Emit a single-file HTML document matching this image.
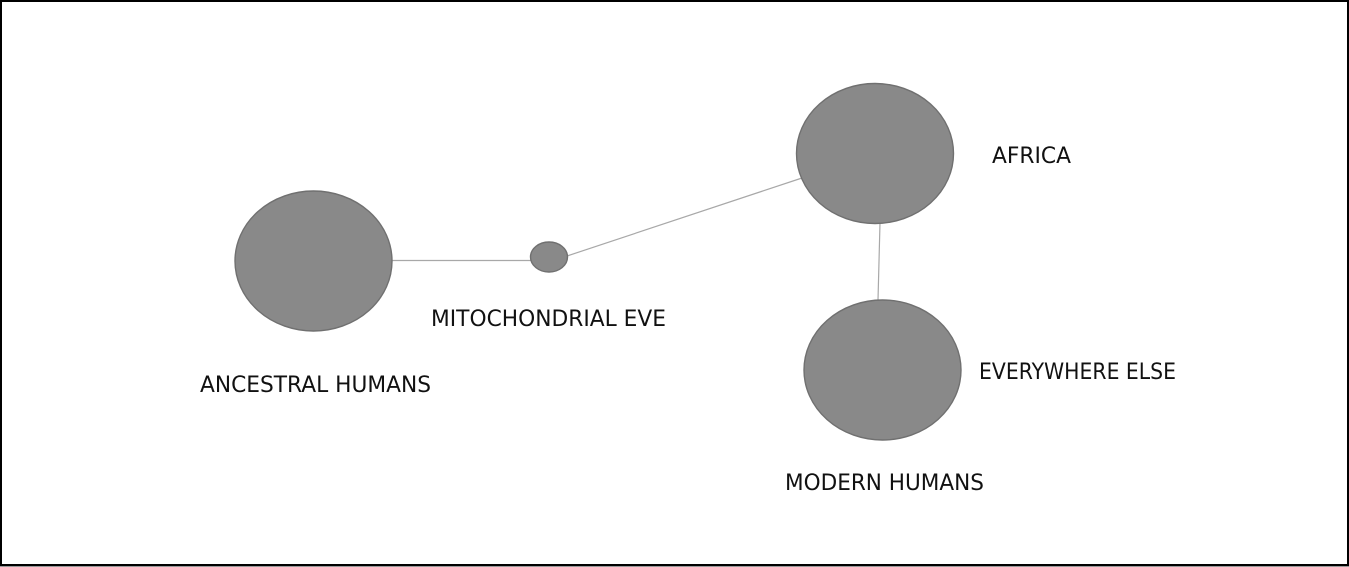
<!DOCTYPE html>
<html>
<head>
<meta charset="utf-8">
<style>
html,body{margin:0;padding:0;background:#fff;width:1349px;height:567px;overflow:hidden}
svg{display:block}
text{font-family:"DejaVu Sans","Liberation Sans",sans-serif;font-size:22px;fill:#111;filter:blur(0.3px)}
</style>
</head>
<body>
<svg width="1349" height="567" viewBox="0 0 1349 567" xmlns="http://www.w3.org/2000/svg">
<rect width="1349" height="567" fill="#fff"/>
<rect x="1" y="1" width="1347" height="564" fill="#fff" stroke="#000" stroke-width="2"/>
<rect x="0" y="566" width="1349" height="1" fill="#999"/>
<g stroke="#a8a8a8" stroke-width="1.2" fill="none">
<line x1="392" y1="260.5" x2="531" y2="260.5"/>
<line x1="567" y1="256" x2="802" y2="178"/>
<line x1="880" y1="223" x2="878" y2="300"/>
</g>
<g fill="#898989" stroke="#707070" stroke-width="1.4">
<ellipse cx="313.500" cy="261" rx="78.500" ry="70"/>
<ellipse cx="549" cy="257" rx="18.500" ry="15"/>
<ellipse cx="875" cy="153.500" rx="78.500" ry="70"/>
<ellipse cx="882.500" cy="370" rx="78.500" ry="70"/>
</g>
<text x="200" y="392" textLength="231" lengthAdjust="spacingAndGlyphs">ANCESTRAL HUMANS</text>
<text x="431" y="326" textLength="235" lengthAdjust="spacingAndGlyphs">MITOCHONDRIAL EVE</text>
<text x="992" y="163" textLength="79" lengthAdjust="spacingAndGlyphs">AFRICA</text>
<text x="979" y="379" textLength="197" lengthAdjust="spacingAndGlyphs">EVERYWHERE ELSE</text>
<text x="785" y="490" textLength="199" lengthAdjust="spacingAndGlyphs">MODERN HUMANS</text>
</svg>
</body>
</html>
